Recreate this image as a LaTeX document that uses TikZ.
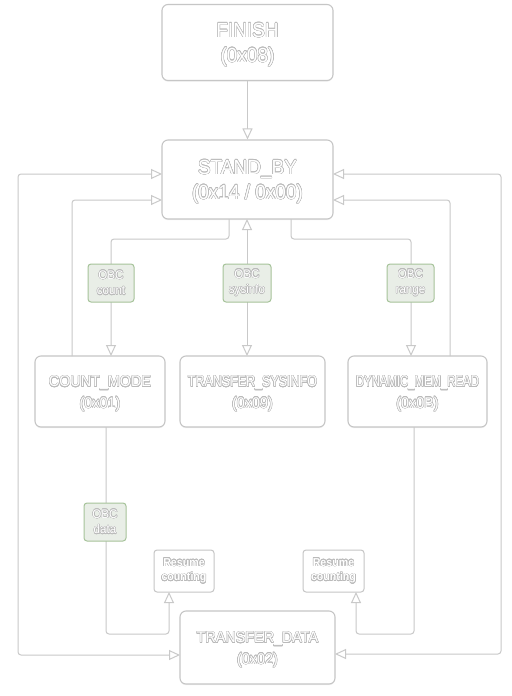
\documentclass[tikz,border=0pt]{standalone}
\usepackage{fontspec}
\setmainfont{Liberation Sans}[FakeStretch=0.93]
\usepackage{contour}
\contourlength{0.45pt}
\usetikzlibrary{arrows.meta,shadows}
\definecolor{linec}{HTML}{C9C9C9}
\definecolor{boxc}{HTML}{C6C6C6}
\definecolor{ghostc}{HTML}{BABABA}
\definecolor{lblfill}{HTML}{E9EEE7}
\definecolor{lbldraw}{HTML}{A6C39A}
\newcommand{\ghtext}[1]{\contour{ghostc}{#1}}
\tikzset{
  statebox/.style={draw=boxc, line width=1.1bp, rounded corners=6bp, fill=white,
    inner sep=0pt,
    drop shadow={shadow xshift=0bp, shadow yshift=-1.2bp, opacity=0.12}},
  ghostbig/.style={align=center, text=white, inner sep=0pt, yshift=-2.5bp,
    font=\fontsize{20.5}{25}\selectfont},
  ghostmid/.style={align=center, text=white, inner sep=0pt, yshift=-2.5bp,
    font=\fontsize{15.5}{21.5}\selectfont},
  lbl/.style={draw=lbldraw, line width=1bp, fill=lblfill, rounded corners=3bp,
    align=center, text=white, inner sep=0pt, font=\fontsize{12.5}{15.5}\selectfont},
  resume/.style={draw=boxc, line width=1bp, fill=white, rounded corners=3bp,
    align=center, text=white, inner sep=0pt, font=\bfseries\fontsize{11.5}{15}\selectfont},
  conn/.style={draw=linec, line width=1bp, rounded corners=3bp},
  tip/.style={-{Triangle[length=11bp,width=10bp,fill=white]}},
  tips/.style={{Triangle[length=11bp,width=10bp,fill=white]}-{Triangle[length=11bp,width=10bp,fill=white]}}
}
\begin{document}
\begin{tikzpicture}[x=1bp,y=-1bp]
\useasboundingbox (0,0) rectangle (512,696);
\fill[white] (0,0) rectangle (512,696);

% states
\node[statebox,minimum width=171bp,minimum height=76bp,
  label={[ghostbig]center:{\ghtext{FINISH}\\\ghtext{(0x08)}}}] (finish) at (247.5,42.5) {};
\node[statebox,minimum width=171bp,minimum height=79bp,
  label={[ghostbig]center:{\ghtext{STAND\_BY}\\\ghtext{(0x14 / 0x00)}}}] (standby) at (247.5,179.5) {};
\node[statebox,minimum width=130bp,minimum height=71bp,
  label={[ghostmid]center:{\ghtext{COUNT\_MODE}\\\ghtext{(0x01)}}}] (count) at (100,391.5) {};
\node[statebox,minimum width=145bp,minimum height=71bp,
  label={[ghostmid]center:{\scalebox{0.87}[1]{\ghtext{TRANSFER\_SYSINFO}}\\\ghtext{(0x09)}}}] (sysinfo) at (252.5,391.5) {};
\node[statebox,minimum width=139bp,minimum height=71bp,
  label={[ghostmid]center:{\scalebox{0.79}[1]{\ghtext{DYNAMIC\_MEM\_READ}}\\\ghtext{(0x0B)}}}] (dyn) at (417.5,391.5) {};
\node[statebox,minimum width=155bp,minimum height=73bp,
  label={[ghostmid]center:{\ghtext{TRANSFER\_DATA}\\\ghtext{(0x02)}}}] (tdata) at (257.5,647.5) {};

% resume boxes
\node[resume,minimum width=60bp,minimum height=42bp] (resL) at (184,571)
  {\ghtext{Resume}\\\ghtext{counting}};
\node[resume,minimum width=61bp,minimum height=42bp] (resR) at (333.5,571)
  {\ghtext{Resume}\\\ghtext{counting}};

% corner coordinates
\coordinate (sbL1) at (162,174);
\coordinate (sbL2) at (162,200);
\coordinate (sbR1) at (333,174);
\coordinate (sbR2) at (333,200);
\coordinate (tdL) at (180,655);
\coordinate (tdR) at (335,654);
\coordinate (sbB) at (247,219);
\coordinate (siT) at (247,356);

% connectors
\draw[conn,tip] (finish.south) -- (standby.north);
\draw[conn,tips] (sbL1) -- (18,174) -- (18,655) -- (tdL);
\draw[conn,tips] (sbR1) -- (501,174) -- (501,654) -- (tdR);
\draw[conn,tip] (72,356) -- (72,200) -- (sbL2);
\draw[conn,tip] (450,356) -- (450,200) -- (sbR2);
\draw[conn,tip] (229,219) -- (229,239) -- (111,239) -- (111,356);
\draw[conn,tip] (291,219) -- (291,239) -- (411,239) -- (411,356);
\draw[conn,tips] (sbB) -- (siT);
\draw[conn,tip] (106,427) -- (106,634) -- (169,634) -- (169,592);
\draw[conn,tip] (414,427) -- (414,634) -- (356,634) -- (356,592);

% labels
\node[lbl,minimum width=46bp,minimum height=38bp] (lcount) at (111,283)
  {\ghtext{OBC}\\\ghtext{count}};
\node[lbl,minimum width=48bp,minimum height=38bp] (lsys) at (247,283)
  {\ghtext{OBC}\\\ghtext{sysinfo}};
\node[lbl,minimum width=47bp,minimum height=38bp] (lrange) at (410.5,283)
  {\ghtext{OBC}\\\ghtext{range}};
\node[lbl,minimum width=42bp,minimum height=38bp] (ldata) at (105,522)
  {\ghtext{OBC}\\\ghtext{data}};
\end{tikzpicture}
\end{document}
